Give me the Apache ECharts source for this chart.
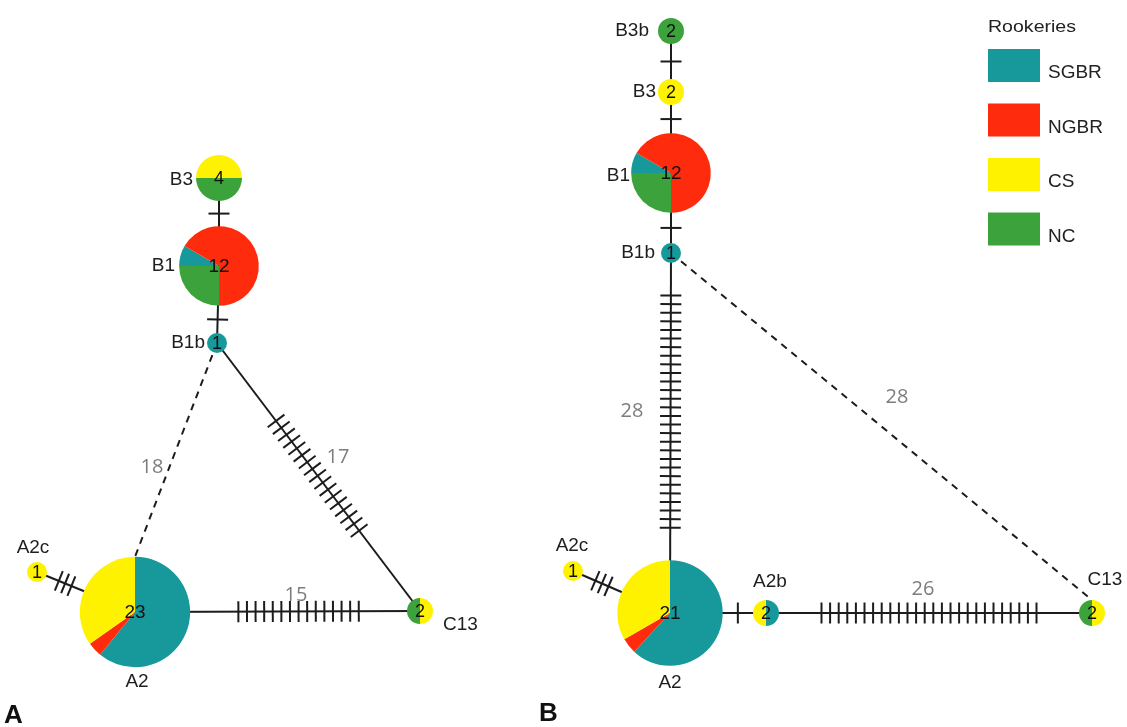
<!DOCTYPE html>
<html><head><meta charset="utf-8">
<script src="https://cdn.jsdelivr.net/npm/echarts@6/dist/echarts.min.js"></script>
<style>html,body{margin:0;padding:0;background:#fff}#c{width:1127px;height:727px}</style>
</head><body><div id="c"></div>
<script>
// ---------------- DATA ----------------
const rookeries = ['SGBR', 'NGBR', 'CS', 'NC'];
const nodeIds   = ['A:B3','A:B1','A:B1b','A:A2','A:A2c','A:C13','B:B3b','B:B3','B:B1','B:B1b','B:A2','B:A2c','B:A2b','B:C13'];
const nodeNames = ['B3','B1','B1b','A2','A2c','C13','B3b','B3','B1','B1b','A2','A2c','A2b','C13'];
const countSGBR = [0, 1, 1, 14, 0, 0,   0, 0, 1, 1, 13, 0, 1, 0];
const countNGBR = [0, 8, 0, 1, 0, 0,    0, 0, 8, 0, 1, 0, 0, 0];
const countCS   = [2, 0, 0, 8, 1, 1,    0, 2, 0, 0, 7, 1, 1, 1];
const countNC   = [2, 3, 0, 0, 0, 1,    2, 0, 3, 0, 0, 0, 0, 1];
const edgeFrom   = ['A:B3','A:B1','A:B1b','A:B1b','A:A2','A:A2c','B:B3b','B:B3','B:B1','B:B1b','B:B1b','B:A2','B:A2b','B:A2c'];
const edgeTo     = ['A:B1','A:B1b','A:A2','A:C13','A:C13','A:A2','B:B3','B:B1','B:B1b','B:A2','B:C13','B:A2b','B:C13','B:A2'];
const edgeSteps  = [1, 1, 18, 17, 15, 3,   1, 1, 1, 28, 28, 1, 26, 3];
const edgeDashed = [false,false,true,false,false,false, false,false,false,false,true,false,false,false];

// ---------------- LAYOUT / STYLE ----------------
const countArrays = [countSGBR, countNGBR, countCS, countNC];
const colors = { SGBR: '#17999b', NGBR: '#ff2b0d', CS: '#fff200', NC: '#3ca33c' };
const nodePos = {
  'A:B3':[219,178], 'A:B1':[219,266], 'A:B1b':[217,343], 'A:A2':[135,612], 'A:A2c':[37,572], 'A:C13':[420,611],
  'B:B3b':[671,31], 'B:B3':[671,92], 'B:B1':[671,173], 'B:B1b':[671,253], 'B:A2':[670,613], 'B:A2c':[573,571],
  'B:A2b':[766,613], 'B:C13':[1092,613]
};
const pieStart = { 'A:B3':270, 'A:B1':270, 'B:B1':270 };
const labelOff = {
  'A:B3':[-26,2,'right'], 'A:B1':[-44,0,'right'], 'A:B1b':[-12,0,'right'], 'A:A2c':[-4,-24,'center'],
  'A:A2':[2,70,'center'], 'A:C13':[23,14,'left'],
  'B:B3b':[-22,0,'right'], 'B:B3':[-15,0,'right'], 'B:B1':[-41,3,'right'], 'B:B1b':[-16,0,'right'],
  'B:A2c':[-1,-25,'center'], 'B:A2':[0,70,'center'], 'B:A2b':[4,-31,'center'], 'B:C13':[13,-33,'center']
};
const edgeLabelOff = { 2:[-24,17], 3:[19.5,-20], 4:[18.5,-16], 9:[-38.5,-22], 10:[15.5,-29], 12:[-6,-24] };
const FONT = '"Liberation Sans", Arial, sans-serif';

function totalOf(i){ return countArrays.reduce((s,a)=>s+a[i],0); }
function radiusOf(n){ return n <= 2 ? 7 + 3*n : 11.5*Math.sqrt(n); }

// ---------------- SERIES ----------------
function sectorSeries(k){
  const name = rookeries[k];
  const data = [];
  nodeIds.forEach((id,i)=>{ if(countArrays[k][i] > 0) data.push([nodePos[id][0], nodePos[id][1], i]); });
  return {
    type:'custom', name, z:3, data,
    itemStyle:{ color: colors[name] },
    encode:{ x:0, y:1 },
    renderItem(params, api){
      const i = api.value(2);
      const total = totalOf(i);
      let before = 0;
      for(let j=0;j<k;j++) before += countArrays[j][i];
      const a0 = (pieStart[nodeIds[i]] || 0) + before/total*360;
      const a1 = a0 + countArrays[k][i]/total*360;
      const c = api.coord([api.value(0), api.value(1)]);
      return {
        type:'sector',
        shape:{ cx:c[0], cy:c[1], r:radiusOf(total), r0:0,
                startAngle:(a0-90)*Math.PI/180, endAngle:(a1-90)*Math.PI/180, clockwise:true },
        style:{ fill: colors[name] }
      };
    }
  };
}

const edgeSeries = {
  type:'custom', name:'edges', z:1,
  data: edgeFrom.map((f,e)=>[nodePos[f][0], nodePos[f][1], e]),
  encode:{ x:0, y:1 },
  renderItem(params, api){
    const e = api.value(2);
    const fi = nodeIds.indexOf(edgeFrom[e]), ti = nodeIds.indexOf(edgeTo[e]);
    const pf = nodePos[edgeFrom[e]], pt = nodePos[edgeTo[e]];
    const r2 = radiusOf(totalOf(ti));
    const target = edgeDashed[e] ? [pt[0], pt[1] - r2] : pt;   // dashed links attach to top of target
    const p1 = api.coord(pf), p2 = api.coord(target);
    const dx = p2[0]-p1[0], dy = p2[1]-p1[1], L = Math.hypot(dx,dy);
    const ux = dx/L, uy = dy/L, nx = -uy, ny = ux;
    const children = [{
      type:'line', shape:{ x1:p1[0], y1:p1[1], x2:p2[0], y2:p2[1] },
      style:{ stroke:'#1c1c1c', lineWidth:2, lineDash: edgeDashed[e] ? [7,6] : null }
    }];
    if(!edgeDashed[e]){
      const ra = radiusOf(totalOf(fi)), rb = r2;
      const mid = (ra + (L - rb))/2;
      const n = edgeSteps[e];
      const sp = Math.min(8.6, (L - ra - rb)/(n + 3));
      for(let s=0;s<n;s++){
        const t = mid + (s - (n-1)/2)*sp;
        const cx = p1[0] + ux*t, cy = p1[1] + uy*t;
        children.push({ type:'line',
          shape:{ x1:cx - nx*10.5, y1:cy - ny*10.5, x2:cx + nx*10.5, y2:cy + ny*10.5 },
          style:{ stroke:'#1c1c1c', lineWidth:2 } });
      }
    }
    if(edgeSteps[e] > 3){
      const off = edgeLabelOff[e] || [0,-20];
      children.push({ type:'text', x:(p1[0]+p2[0])/2 + off[0], y:(p1[1]+p2[1])/2 + off[1],
        style:{ text:String(edgeSteps[e]), fill:'#7d7d7d', fontSize:20, fontFamily:'"Open Sans", sans-serif',
                align:'center', verticalAlign:'middle' } });
    }
    return { type:'group', children };
  }
};

const textSeries = {
  type:'custom', name:'labels', z:5,
  data: nodeIds.map((id,i)=>[nodePos[id][0], nodePos[id][1], i]),
  encode:{ x:0, y:1 },
  renderItem(params, api){
    const i = api.value(2);
    const c = api.coord([api.value(0), api.value(1)]);
    const lo = labelOff[nodeIds[i]];
    return { type:'group', children:[
      { type:'text', x:c[0], y:c[1]+1, style:{ text:String(totalOf(i)), fill:'#111', fontSize: totalOf(i) > 9 ? 19 : 18,
          fontFamily:FONT, align:'center', verticalAlign:'middle' } },
      { type:'text', x:c[0]+lo[0], y:c[1]+lo[1], style:{ text:nodeNames[i], fill:'#1e1e1e', fontSize:19,
          fontFamily:FONT, align:lo[2], verticalAlign:'middle' } }
    ]};
  }
};

const chart = echarts.init(document.getElementById('c'), null, { renderer:'canvas' });
chart.setOption({
  animation:false,
  backgroundColor:'#ffffff',
  grid:{ left:0, right:0, top:0, bottom:0 },
  xAxis:{ type:'value', min:0, max:1127, show:false },
  yAxis:{ type:'value', min:0, max:727, inverse:true, show:false },
  title:[
    { text:'A', left:4, top:703, padding:0, textStyle:{ fontSize:26, fontWeight:'bold', color:'#111', fontFamily:FONT } },
    { text:'B', left:539, top:701, padding:0, textStyle:{ fontSize:26, fontWeight:'bold', color:'#111', fontFamily:FONT } }
  ],
  graphic:[
    { type:'text', left:988, top:19, scaleX:1.15, style:{ text:'Rookeries', fontSize:17, fill:'#222', font:'17px "Liberation Sans", Arial, sans-serif' } }
  ],
  legend:{
    data: rookeries, orient:'vertical', left:988, top:49, padding:0,
    itemWidth:52, itemHeight:33, itemGap:21, icon:'rect', selectedMode:false,
    formatter: name => '{t|' + name + '}',
    textStyle:{ fontSize:19, color:'#222', fontFamily:FONT,
      rich:{ t:{ fontSize:19, color:'#222', fontFamily:FONT, padding:[15,0,0,3] } } }
  },
  series:[ edgeSeries, sectorSeries(0), sectorSeries(1), sectorSeries(2), sectorSeries(3), textSeries ]
});
</script>
</body></html>
